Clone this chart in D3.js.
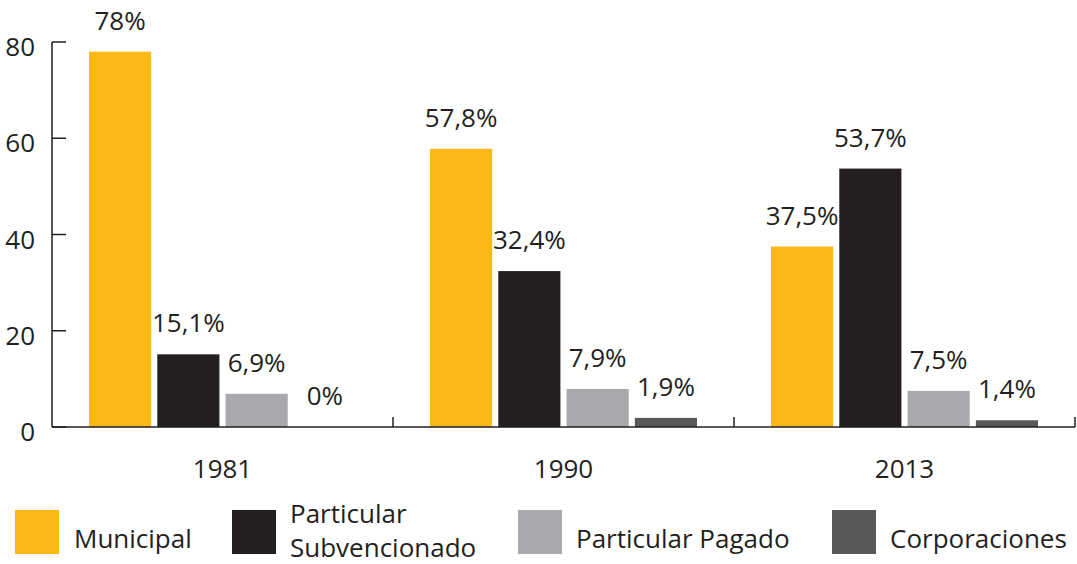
<!DOCTYPE html>
<html>
<head>
<meta charset="utf-8">
<script src="https://cdn.jsdelivr.net/npm/d3@7"></script>
<style>
  body { margin: 0; background: #fff; }
  text { font-family: "Open Sans", "Noto Sans", sans-serif; fill: #231f20; }
</style>
</head>
<body>
<svg id="chart" width="1077" height="564"></svg>
<script>
// Data
const years = ["1981", "1990", "2013"];
const series = ["Municipal", "Particular Subvencionado", "Particular Pagado", "Corporaciones"];
const municipal = [78, 57.8, 37.5];
const subvencionado = [15.1, 32.4, 53.7];
const pagado = [6.9, 7.9, 7.5];
const corporaciones = [0, 1.9, 1.4];
const valueLabels = [
  ["78%", "15,1%", "6,9%", "0%"],
  ["57,8%", "32,4%", "7,9%", "1,9%"],
  ["37,5%", "53,7%", "7,5%", "1,4%"]
];
const yTicks = [0, 20, 40, 60, 80];
const colors = ["#fbb817", "#231f20", "#a7a9ac", "#58595b"];

(function () {
  const svg = d3.select("#chart");
  const left = 52, right = 1075, top = 42, bottom = 427;
  const fs = "26px";

  const x0 = d3.scaleBand().domain(years).range([left, right]);
  const x1 = d3.scaleBand().domain(series)
      .range([37, x0.bandwidth() - 37])
      .paddingInner(0.09);
  const y = d3.scaleLinear().domain([0, 80]).range([bottom, top]);
  const color = d3.scaleOrdinal().domain(series).range(colors);

  const allSeries = [municipal, subvencionado, pagado, corporaciones];
  const rows = years.map((yr, i) => ({
    year: yr,
    values: series.map((s, j) => ({ key: s, value: allSeries[j][i], label: valueLabels[i][j] }))
  }));

  // y axis
  const yAxis = svg.append("g").attr("transform", `translate(${left},0)`);
  yAxis.append("line").attr("x1", 0).attr("x2", 0).attr("y1", top).attr("y2", bottom)
      .attr("stroke", "#231f20").attr("stroke-width", 1.5);
  yAxis.selectAll(".tick").data(yTicks).enter().append("line")
      .attr("x1", 0).attr("x2", 14)
      .attr("y1", d => y(d)).attr("y2", d => y(d))
      .attr("stroke", "#231f20").attr("stroke-width", 1.5);
  yAxis.selectAll(".lbl").data(yTicks).enter().append("text")
      .attr("x", -17).attr("y", d => y(d) + 14)
      .attr("text-anchor", "end").style("font-size", fs)
      .text(d => d);

  // bars
  const groups = svg.selectAll(".grp").data(rows).enter().append("g")
      .attr("transform", d => `translate(${x0(d.year)},0)`);
  groups.selectAll("rect").data(d => d.values).enter().append("rect")
      .attr("x", d => x1(d.key))
      .attr("y", d => y(d.value))
      .attr("width", x1.bandwidth())
      .attr("height", d => bottom - y(d.value))
      .attr("fill", d => color(d.key));
  groups.selectAll(".val").data(d => d.values).enter().append("text")
      .attr("x", d => x1(d.key) + x1.bandwidth() / 2)
      .attr("y", d => y(d.value) - 22)
      .attr("text-anchor", "middle").style("font-size", fs)
      .text(d => d.label);

  // x axis
  const xAxis = svg.append("g");
  xAxis.append("line").attr("x1", left).attr("x2", right).attr("y1", bottom).attr("y2", bottom)
      .attr("stroke", "#231f20").attr("stroke-width", 1.5);
  xAxis.selectAll(".tk").data(years).enter().append("line")
      .attr("x1", d => x0(d) + x0.bandwidth()).attr("x2", d => x0(d) + x0.bandwidth())
      .attr("y1", bottom).attr("y2", bottom - 10)
      .attr("stroke", "#231f20").attr("stroke-width", 1.5);
  xAxis.selectAll(".yr").data(years).enter().append("text")
      .attr("x", d => x0(d) + x0.bandwidth() / 2)
      .attr("y", 478)
      .attr("text-anchor", "middle").style("font-size", fs)
      .text(d => d);

  // legend
  const legendX = [15, 232, 518, 832];
  const textX = [74, 290, 576, 890];
  const legend = svg.selectAll(".leg").data(series).enter().append("g");
  legend.append("rect")
      .attr("x", (d, i) => legendX[i]).attr("y", 510)
      .attr("width", 44).attr("height", 44)
      .attr("fill", d => color(d));
  legend.each(function (d, i) {
    const g = d3.select(this);
    if (d === "Particular Subvencionado") {
      g.append("text").attr("x", textX[i]).attr("y", 523).style("font-size", fs).text("Particular");
      g.append("text").attr("x", textX[i]).attr("y", 557).style("font-size", fs).text("Subvencionado");
    } else {
      g.append("text").attr("x", textX[i]).attr("y", 548).style("font-size", fs).text(d);
    }
  });
})();
</script>
</body>
</html>
